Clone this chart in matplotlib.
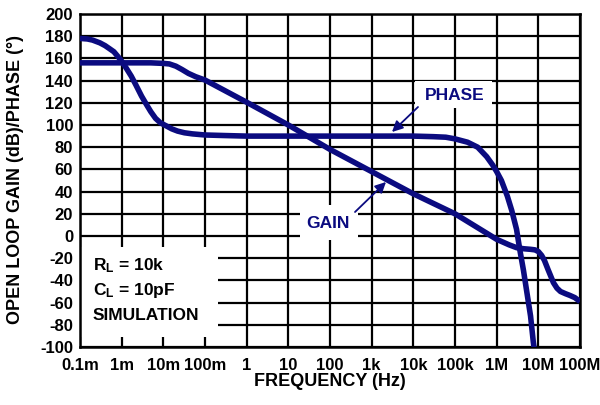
import numpy as np
import matplotlib
matplotlib.use("Agg")
import matplotlib.pyplot as plt
from matplotlib.patches import Rectangle

plt.rcParams['font.family'] = ['Liberation Sans', 'DejaVu Sans']
plt.rcParams['font.weight'] = 'bold'
plt.rcParams['mathtext.fontset'] = 'custom'
plt.rcParams['mathtext.rm'] = 'Liberation Sans:bold'
plt.rcParams['mathtext.bf'] = 'Liberation Sans:bold'
plt.rcParams['mathtext.it'] = 'Liberation Sans:bold'

# ---- data ----
gain_freq = [1e-4, 1e-3, 5e-3, 1e-2, 1.4e-2, 2e-2, 2.8e-2, 4e-2, 6e-2, 1e-1, 1, 10, 100, 1e3, 1e4,
             1e5, 1e6, 2e6, 3e6, 4.5e6, 6.5e6, 8.3e6, 1e7, 1.2e7, 1.4e7, 1.7e7, 2.3e7, 2.8e7,
             3.4e7, 4.5e7, 5.7e7, 7.5e7, 1e8]
gain_db = [156, 156, 156, 155.5, 155, 153, 150, 146.5, 143.5, 140.5, 120.5, 100, 78, 58, 38,
           20, -3, -8, -10.5, -11.5, -12, -12.5, -14, -17.5, -22, -30, -42, -47, -50,
           -52, -53.5, -55.5, -59]

phase_freq = [1e-4, 1.5e-4, 2e-4, 3e-4, 4e-4, 5e-4, 6.5e-4, 8e-4, 1e-3, 1.3e-3, 1.7e-3, 2.2e-3,
              3e-3, 4e-3, 5e-3, 6.5e-3, 8.5e-3, 1.2e-2, 1.6e-2, 2.2e-2, 3.2e-2, 5e-2, 1e-1,
              3e-1, 1, 10, 100, 1e3, 1e4, 3e4, 6e4, 1e5, 2e5, 3.5e5, 5.75e5, 8e5, 1e6,
              1.3e6, 1.8e6, 2.3e6, 3e6, 3.6e6, 4.4e6, 5.2e6, 6.5e6, 7.6e6, 8e6]
phase_deg = [178, 177.5, 176.5, 174, 171.5, 169, 166, 162, 157.5, 151, 144, 136,
             126, 118, 112, 106, 102, 99, 96.5, 94.5, 93, 92, 91,
             90.5, 90, 90, 90, 90, 90, 89.5, 89, 87.5, 84.5, 80, 71.5, 64, 58,
             50, 36, 23, 6, -12.6, -31, -48.6, -72, -96, -102]

x_ticks = [1e-4, 1e-3, 1e-2, 1e-1, 1, 10, 100, 1e3, 1e4, 1e5, 1e6, 1e7, 1e8]
x_labels = ['0.1m', '1m', '10m', '100m', '1', '10', '100', '1k', '10k', '100k', '1M', '10M', '100M']
y_ticks = list(range(-100, 201, 20))

navy = '#0b0b80'

fig = plt.figure(figsize=(6, 4.05), dpi=100)
ax = fig.add_axes([80/600, 58/405, 500/600, 333/405])
ax.set_xscale('log')
ax.set_xlim(1e-4, 1e8)
ax.set_ylim(-100, 200)
ax.set_xticks(x_ticks)
ax.set_xticklabels(x_labels)
ax.xaxis.set_minor_locator(matplotlib.ticker.NullLocator())
ax.set_yticks(y_ticks)
ax.set_yticklabels([str(v) for v in y_ticks])
ax.tick_params(length=0, labelsize=12, colors='black')
ax.tick_params(axis='x', pad=8)
ax.tick_params(axis='y', pad=5)
ax.set_axisbelow(True)
ax.grid(True, color='black', lw=1.6)
for s in ax.spines.values():
    s.set_linewidth(1.8)
    s.set_color('black')
    s.set_zorder(2.6)

# white boxes masking gridlines (display pixel coords)
def pix_box(x0, y0, x1, y1):
    r = Rectangle((x0, 405 - y1), x1 - x0, y1 - y0, transform=None,
                  facecolor='white', edgecolor='none', zorder=1.5)
    ax.add_artist(r)

pix_box(81, 247, 218, 337)
pix_box(415, 81, 492, 108)
pix_box(300, 205, 358, 240)

ax.plot(gain_freq, gain_db, color=navy, lw=4, solid_joinstyle='round',
        solid_capstyle='butt', zorder=3)
ax.plot(phase_freq, phase_deg, color=navy, lw=4, solid_joinstyle='round',
        solid_capstyle='butt', zorder=3)

# text in box
fig.text(93/600, 1 - 266/405, r'R$_{\mathrm{L}}$ = 10k', fontsize=12.5, va='center', ha='left')
fig.text(93/600, 1 - 290/405, r'C$_{\mathrm{L}}$ = 10pF', fontsize=12.5, va='center', ha='left')
fig.text(93/600, 1 - 315/405, 'SIMULATION', fontsize=12.5, va='center', ha='left')

# curve labels
fig.text(455/600, 1 - 95/405, 'PHASE', fontsize=12.5, color=navy, ha='center', va='center')
fig.text(328/600, 1 - 224/405, 'GAIN', fontsize=12.5, color=navy, ha='center', va='center')

ax.annotate('', xy=(392, 405 - 132), xycoords='figure pixels',
            xytext=(418, 405 - 107), textcoords='figure pixels',
            arrowprops=dict(arrowstyle='-|>', mutation_scale=16, lw=1.3, color=navy,
                            shrinkA=0, shrinkB=0), zorder=4)
ax.annotate('', xy=(386, 405 - 182), xycoords='figure pixels',
            xytext=(355, 405 - 212), textcoords='figure pixels',
            arrowprops=dict(arrowstyle='-|>', mutation_scale=16, lw=1.3, color=navy,
                            shrinkA=0, shrinkB=0), zorder=4)

fig.text(330/600, 1 - 382/405, 'FREQUENCY (Hz)', fontsize=13, ha='center', va='center')
fig.text(16/600, 1 - 179/405, 'OPEN LOOP GAIN (dB)/PHASE (°)', fontsize=13,
         rotation=90, ha='center', va='center')

fig.savefig('out.png', dpi=100)
